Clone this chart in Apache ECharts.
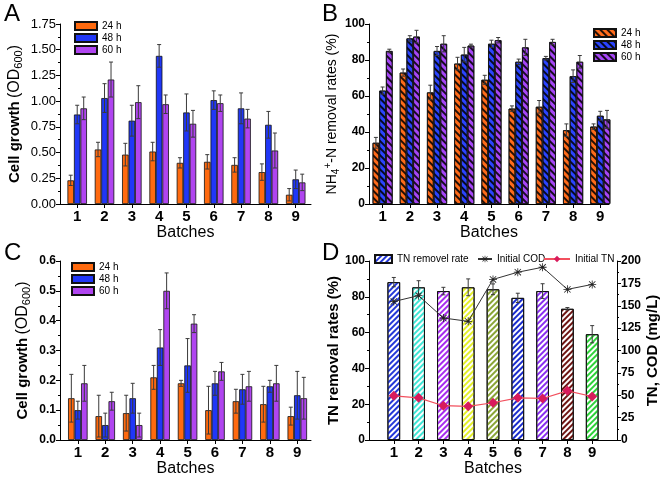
<!DOCTYPE html>
<html><head><meta charset="utf-8">
<script src="https://cdn.jsdelivr.net/npm/echarts@6/dist/echarts.min.js"></script>
<style>html,body{margin:0;padding:0;background:#fff}#c{width:661px;height:478px}</style>
</head><body><div id="c"></div>
<script>
const batches = [1,2,3,4,5,6,7,8,9];
const hours = ['24 h','48 h','60 h'];
// Panel A: cell growth (OD600)
const a24 = [0.23,0.53,0.48,0.51,0.40,0.41,0.38,0.31,0.09];
const a48 = [0.87,1.03,0.81,1.44,0.89,1.01,0.93,0.77,0.24];
const a60 = [0.93,1.21,0.99,0.97,0.78,0.98,0.83,0.52,0.21];
const a24Err = [0.05,0.07,0.11,0.09,0.05,0.07,0.07,0.08,0.06];
const a48Err = [0.09,0.14,0.15,0.11,0.18,0.09,0.15,0.13,0.09];
const a60Err = [0.11,0.17,0.16,0.09,0.13,0.08,0.09,0.17,0.08];
// Panel B: NH4+-N removal rates (%)
const b24 = [34,73,62,78,69,53,54,41,43];
const b48 = [63,92,85,83,89,79,81,71,49];
const b60 = [85,93,89,88,91,87,90,79,47];
const b24Err = [3,2,4,3.5,2.5,1.5,3.5,3.5,1.5];
const b48Err = [2,1.5,2.5,4,2,1.5,1,3.5,2.5];
const b60Err = [1,3.5,4.5,0.8,1.5,4.5,1.5,3.5,5];
// Panel C: cell growth (OD600)
const c24 = [0.14,0.08,0.09,0.21,0.19,0.10,0.13,0.12,0.08];
const c48 = [0.10,0.05,0.14,0.31,0.25,0.19,0.17,0.18,0.15];
const c60 = [0.19,0.13,0.05,0.50,0.39,0.23,0.18,0.19,0.14];
const c24Err = [0.08,0.07,0.06,0.04,0.01,0.08,0.04,0.06,0.03];
const c48Err = [0.03,0.04,0.05,0.06,0.09,0.04,0.05,0.02,0.08];
const c60Err = [0.06,0.03,0.04,0.06,0.03,0.03,0.05,0.06,0.07];
// Panel D
const tnRate = [88.2,85.3,83.2,85.3,84.2,79.4,83.2,73.3,59.1];
const tnRateErr = [2.6,3.7,2.1,4.7,3,2.6,4.1,0.7,4.8];
const initCOD = [154.7,161.3,136.3,132.6,179.4,187.5,193,168.3,173.8];
const initTN = [49.4,47.1,38.3,37.6,41.6,47.1,46.4,54.9,48.6];
const dColors = ['#2438d8','#3fe6d6','#a72cf0','#e4f02a','#8aa536','#1a2ccc','#8a2ff0','#6e1412','#2fd23a'];

const FONT = 'Liberation Sans, Arial, sans-serif';
const colA = ['#ff6a0f','#2037f7','#b045f0'];
const colB = ['#ff6b1a','#2b44ff','#a646f6'];

const chart = echarts.init(document.getElementById('c'), null, {renderer:'canvas'});

const stripeB = {symbol:'rect', symbolSize:1, dashArrayX:[1,0], dashArrayY:[2,3], rotation:Math.PI/4, color:'rgba(0,0,0,0.85)'};
function stripeD(c){ return {symbol:'rect', symbolSize:1, dashArrayX:[1,0], dashArrayY:[2,2], rotation:-Math.PI/4, color:c}; }

function bars(name, gi, yi, vals, color, w, decal){
  return {type:'bar', name, xAxisIndex:gi, yAxisIndex:yi, barWidth:w, barGap:'0%',
    data: batches.map((b,i)=>[b, vals[i]]),
    itemStyle:{color, borderColor:'#111', borderWidth:0.8, decal: decal||null},
    emphasis:{disabled:true}, silent:true, z:2};
}
function errs(name, gi, yi, vals, e, offset){
  return {type:'custom', name, xAxisIndex:gi, yAxisIndex:yi, silent:true, z:5, clip:false,
    data: batches.map((b,i)=>[b, vals[i], e[i]]),
    renderItem(params, api){
      const x=api.value(0), y=api.value(1), d=api.value(2);
      const t=api.coord([x,y+d]), bt=api.coord([x,y-d]);
      const cx=t[0]+offset;
      const st={stroke:'#3a3a3a', lineWidth:1};
      return {type:'group', children:[
        {type:'line', shape:{x1:cx,y1:t[1],x2:cx,y2:bt[1]}, style:st},
        {type:'line', shape:{x1:cx-2,y1:t[1],x2:cx+2,y2:t[1]}, style:st},
        {type:'line', shape:{x1:cx-2,y1:bt[1],x2:cx+2,y2:bt[1]}, style:st}
      ]};
    }};
}
function xAx(gi, min, max){
  return {type:'value', gridIndex:gi, min, max,
    axisLine:{show:true, onZero:false, lineStyle:{color:'#000', width:1}},
    axisTick:{show:true, customValues:batches, length:4, lineStyle:{color:'#000'}},
    axisLabel:{customValues:batches, margin:5, color:'#000', fontFamily:FONT, fontWeight:'bold', fontSize:15},
    splitLine:{show:false},
    name:'Batches', nameLocation:'middle', nameGap:21,
    nameTextStyle:{fontFamily:FONT, fontSize:16, color:'#000'}};
}
function yAx(gi, min, max, interval, fmt, bold, name, nameGap, rich, pos){
  return {type:'value', gridIndex:gi, min, max, interval, position:pos||'left',
    axisLine:{show:true, lineStyle:{color:'#000', width:1}},
    axisTick:{show:true, length:4, lineStyle:{color:'#000'}},
    minorTick:{show:true, splitNumber:2, length:2, lineStyle:{color:'#000'}},
    axisLabel:{formatter:fmt, color:'#000', fontFamily:FONT, fontSize: bold?12:13, fontWeight: bold?'bold':'normal', margin:4},
    splitLine:{show:false},
    name, nameLocation:'middle', nameGap, nameRotate:90,
    nameTextStyle:{fontFamily:FONT, color:'#000', rich}};
}
const cellRich = {
  b:{fontFamily:FONT, fontSize:15, fontWeight:'bold', color:'#000', lineHeight:20},
  r:{fontFamily:FONT, fontSize:16, color:'#000', lineHeight:20},
  s:{fontFamily:FONT, fontSize:11, color:'#000', lineHeight:12, padding:[8,0,0,0]}
};
const nhRich = {
  r:{fontFamily:FONT, fontSize:14, color:'#000', lineHeight:20},
  s:{fontFamily:FONT, fontSize:10, color:'#000', lineHeight:12, padding:[8,0,0,0]},
  p:{fontFamily:FONT, fontSize:10, color:'#000', lineHeight:12, padding:[0,0,8,0]}
};
const boldRich = { b:{fontFamily:FONT, fontSize:15, fontWeight:'bold', color:'#000'} };

const legendText = {fontFamily:FONT, fontSize:10, color:'#000'};
const legendBase = {orient:'vertical', padding:0, icon:'rect', itemWidth:22, itemHeight:8, itemGap:2,
  textStyle:legendText, selectedMode:false, formatter: n => n.slice(2)};

const asterisk = 'path://M4.5,0L5.5,0L5.5,10L4.5,10Z M0,4.5L10,4.5L10,5.5L0,5.5Z M0.7,1.4L1.4,0.7L9.3,8.6L8.6,9.3Z M8.6,0.7L9.3,1.4L1.4,9.3L0.7,8.6Z';

const option = {
  animation:false,
  backgroundColor:'#fff',
  grid:[
    {left:60, top:24, width:251, height:180},
    {left:369, top:24, width:240, height:180},
    {left:60, top:261, width:251, height:181},
    {left:369, top:261, width:248, height:181}
  ],
  xAxis:[ xAx(0,0.37,9.56), xAx(1,0.5,9.32), xAx(2,0.35,9.5), xAx(3,0,10) ],
  yAxis:[
    yAx(0,0,1.75,0.25,v=>v.toFixed(2),false,'{b|Cell growth} {r|(OD}{s|600}{r|)}',35,cellRich),
    yAx(1,0,100,20,v=>String(v),true,'{r|NH}{s|4}{p|+}{r|-N removal rates (%)}',25,nhRich),
    yAx(2,0,0.6,0.1,v=>v.toFixed(1),true,'{b|Cell growth} {r|(OD}{s|600}{r|)}',27,cellRich),
    yAx(3,0,100,20,v=>String(v),true,'{b|TN removal rates (%)}',28,boldRich),
    yAx(3,0,200,25,v=>String(v),true,'{b|TN, COD (mg/L)}',27,boldRich,'right')
  ],
  legend:[
    Object.assign({}, legendBase, {left:74, top:21, data:['A 24 h','A 48 h','A 60 h']}),
    Object.assign({}, legendBase, {left:593, top:28, data:['B 24 h','B 48 h','B 60 h']}),
    Object.assign({}, legendBase, {left:71, top:262, data:['C 24 h','C 48 h','C 60 h']}),
    {left:374, top:254, padding:0, icon:'rect', itemWidth:17, itemHeight:8, selectedMode:false, textStyle:legendText, data:['TN removel rate']},
    {left:477, top:254, padding:0, itemWidth:14, itemHeight:8, selectedMode:false, textStyle:legendText, data:['Initial COD']},
    {left:543, top:254, padding:0, itemWidth:26, itemHeight:8, selectedMode:false, textStyle:legendText, data:['Initial TN']}
  ],
  graphic:[
    {type:'text', left:4, top:2, style:{text:'A', font:'24px '+FONT, fill:'#000'}},
    {type:'text', left:322, top:2, style:{text:'B', font:'24px '+FONT, fill:'#000'}},
    {type:'text', left:4, top:241, style:{text:'C', font:'24px '+FONT, fill:'#000'}},
    {type:'text', left:322, top:241, style:{text:'D', font:'24px '+FONT, fill:'#000'}}
  ],
  series:[
    bars('A 24 h',0,0,a24,colA[0],6.5), bars('A 48 h',0,0,a48,colA[1],6.5), bars('A 60 h',0,0,a60,colA[2],6.5),
    errs('eA1',0,0,a24,a24Err,-6.5), errs('eA2',0,0,a48,a48Err,0), errs('eA3',0,0,a60,a60Err,6.5),
    bars('B 24 h',1,1,b24,colB[0],6.7,stripeB), bars('B 48 h',1,1,b48,colB[1],6.7,stripeB), bars('B 60 h',1,1,b60,colB[2],6.7,stripeB),
    errs('eB1',1,1,b24,b24Err,-6.7), errs('eB2',1,1,b48,b48Err,0), errs('eB3',1,1,b60,b60Err,6.7),
    bars('C 24 h',2,2,c24,colA[0],6.5), bars('C 48 h',2,2,c48,colA[1],6.5), bars('C 60 h',2,2,c60,colA[2],6.5),
    errs('eC1',2,2,c24,c24Err,-6.5), errs('eC2',2,2,c48,c48Err,0), errs('eC3',2,2,c60,c60Err,6.5),
    {type:'bar', name:'TN removel rate', xAxisIndex:3, yAxisIndex:3, barWidth:12.7, silent:true, z:2,
      itemStyle:{color:'#fff', borderColor:'#111', borderWidth:1, decal:stripeD(dColors[0])},
      data: batches.map((b,i)=>({value:[b, tnRate[i]], itemStyle:{decal:stripeD(dColors[i])}}))},
    errs('eD',3,3,tnRate,tnRateErr,0),
    {type:'line', name:'Initial COD', xAxisIndex:3, yAxisIndex:4, z:6, silent:true,
      data: batches.map((b,i)=>[b, initCOD[i]]), symbol:asterisk, symbolSize:8,
      itemStyle:{color:'#222'}, lineStyle:{color:'#333', width:1}},
    {type:'line', name:'Initial TN', xAxisIndex:3, yAxisIndex:4, z:6, silent:true,
      data: batches.map((b,i)=>[b, initTN[i]]), symbol:'diamond', symbolSize:10,
      itemStyle:{color:'#d81b5c'}, lineStyle:{color:'#f2505e', width:1.2}}
  ]
};
chart.setOption(option);
</script></body></html>
